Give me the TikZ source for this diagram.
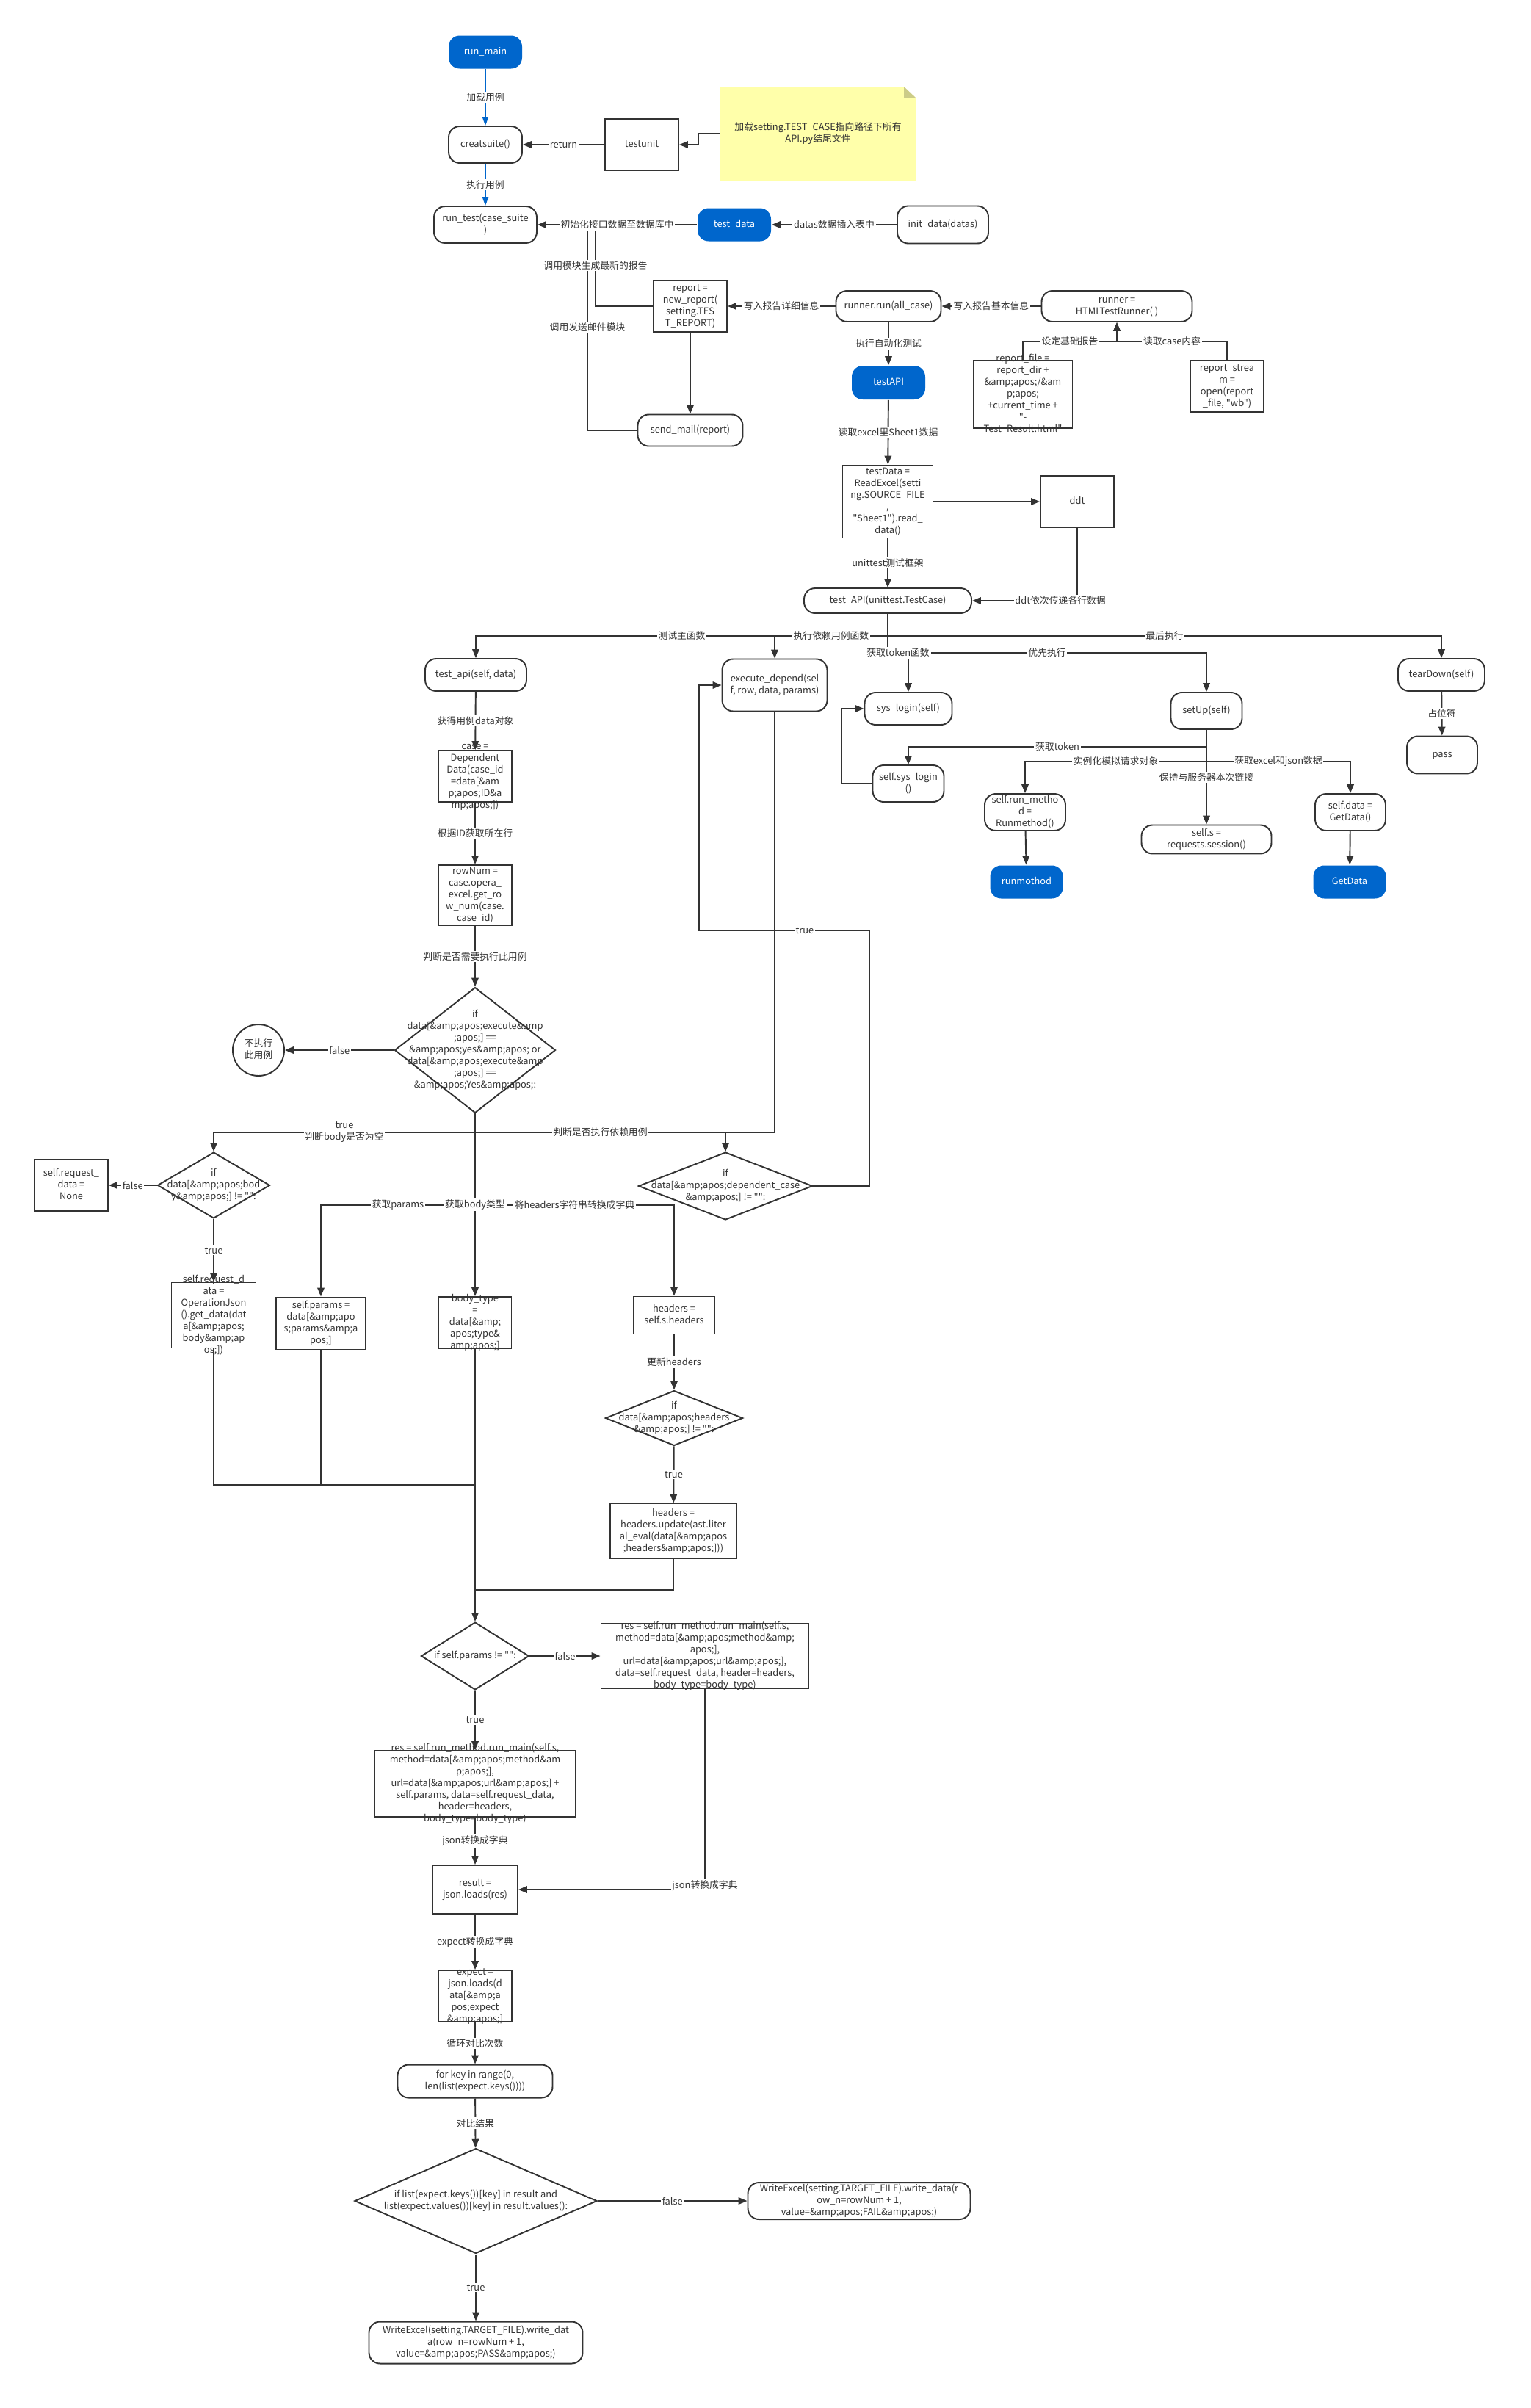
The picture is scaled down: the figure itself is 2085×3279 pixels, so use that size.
\documentclass[tikz,border=0pt]{standalone}
\usepackage{fontspec}
\setmainfont{Noto Sans CJK SC}[Ligatures=TeXOff]
\usetikzlibrary{arrows.meta,shapes.geometric}
\definecolor{FlowBlue}{RGB}{0,102,204}
\definecolor{Ink}{RGB}{51,51,51}
\definecolor{NoteYellow}{RGB}{255,255,170}
\definecolor{NoteFold}{RGB}{204,204,136}
\newcommand{\boxtext}[1]{\makebox[0pt]{\raisebox{-1.8pt}[0pt][0pt]{\begin{tabular}{@{}c@{}}#1\end{tabular}}}}
\tikzset{
  wh/.style 2 args={minimum width=#1*0.02cm,minimum height=#2*0.02cm},
  nodebase/.style={inner sep=0pt,text=Ink,line width=1.1pt},
  term/.style={nodebase,rounded corners=0.3cm,fill=FlowBlue,text=white},
  proc/.style={nodebase,draw=Ink,fill=white,rounded corners=0.3cm},
  codebox/.style={nodebase,draw=Ink,fill=white},
  decision/.style={nodebase,diamond,draw=Ink,fill=white},
  arrow/.style={-{Triangle[length=0.24cm,width=0.19cm]},line width=1.1pt,draw=Ink},
  line/.style={line width=1.1pt,draw=Ink},
  bluearrow/.style={-{Triangle[length=0.24cm,width=0.17cm]},line width=0.6pt,draw=FlowBlue},
  lbl/.style={fill=white,inner sep=1pt,text=Ink,align=center}
}

\begin{document}
\begin{tikzpicture}[x=0.02cm,y=-0.02cm,font=\fontsize{7.3}{9.1}\selectfont]
\fill[white] (0,0) rectangle (2085,3279);
\useasboundingbox (0,0) rectangle (2085,3279);

% suite and report
\node[term,wh={100}{45}] (runmain) at (661,71) {\boxtext{run\_main}};
\node[proc,wh={100}{50}] (creatsuite) at (661,197) {\boxtext{creatsuite()}};
\node[codebox,wh={100}{70}] (testunit) at (874,197) {\boxtext{testunit}};
\node[nodebase,fill=NoteYellow,wh={266}{129}] (note) at (1114,182)
  {\boxtext{加载setting.TEST\_CASE指向路径下所有\\API.py结尾文件}};
\fill[white] (1231,118) -- (1247,118) -- (1247,133) -- cycle;
\fill[NoteFold] (1231,118) -- (1247,133) -- (1231,133) -- cycle;
\node[proc,wh={140}{50}] (runtest) at (661,306) {\boxtext{run\_test(case\_suite\\)}};
\node[term,wh={100}{45}] (testdata) at (1000,306) {\boxtext{test\_data}};
\node[proc,wh={124}{51}] (initdata) at (1284,306) {\boxtext{init\_data(datas)}};
\node[codebox,wh={100}{70}] (report) at (940,417)
  {\boxtext{report =\\new\_report(\\setting.TES\\T\_REPORT)}};
\node[proc,wh={143}{43}] (sendmail) at (940,586) {\boxtext{send\_mail(report)}};
\node[proc,wh={143}{42}] (runnerrun) at (1210,417) {\boxtext{runner.run(all\_case)}};
\node[proc,wh={205}{42}] (runner) at (1521,417) {\boxtext{runner =\\HTMLTestRunner( )}};
\node[codebox,wh={135}{92}] (reportfile) at (1393,537)
  {\boxtext{report\_file =\\report\_dir +\\\&amp;apos;/\&am\\p;apos;\\+current\_time +\\"-\\Test\_Result.html"}};
\node[codebox,wh={100}{70}] (reportstream) at (1671,526)
  {\boxtext{report\_strea\\m =\\open(report\\\_file, "wb")}};

% unittest entry
\node[term,wh={100}{46}] (testapiblue) at (1210,521) {\boxtext{testAPI}};
\node[codebox,wh={123}{99}] (testdatabox) at (1209,683)
  {\boxtext{testData =\\ReadExcel(setti\\ng.SOURCE\_FILE\\,\\"Sheet1").read\_\\data()}};
\node[codebox,wh={100}{70}] (ddt) at (1467,683) {\boxtext{ddt}};
\node[proc,wh={228}{34}] (tapicls) at (1209,818) {\boxtext{test\_API(unittest.TestCase)}};

% test case methods
\node[proc,wh={138}{44}] (testapi) at (648,919) {\boxtext{test\_api(self, data)}};
\node[proc,wh={143}{71}] (execdep) at (1055,933) {\boxtext{execute\_depend(sel\\f, row, data, params)}};
\node[proc,wh={119}{44}] (syslogin) at (1237,965) {\boxtext{sys\_login(self)}};
\node[proc,wh={97}{50}] (setup) at (1643,968) {\boxtext{setUp(self)}};
\node[proc,wh={118}{44}] (teardown) at (1963,919) {\boxtext{tearDown(self)}};
\node[proc,wh={96}{51}] (passnode) at (1964,1028) {\boxtext{pass}};
\node[proc,wh={97}{50}] (selfsys) at (1237,1067) {\boxtext{self.sys\_login\\()}};
\node[proc,wh={110}{50}] (runmethod) at (1396,1106) {\boxtext{self.run\_metho\\d =\\Runmethod()}};
\node[proc,wh={177}{39}] (selfs) at (1643,1143) {\boxtext{self.s =\\requests.session()}};
\node[proc,wh={96}{50}] (selfdata) at (1839,1106) {\boxtext{self.data =\\GetData()}};
\node[term,wh={99}{45}] (runmothod) at (1398,1201) {\boxtext{runmothod}};
\node[term,wh={99}{45}] (getdata) at (1838,1201) {\boxtext{GetData}};

% test_api body
\node[codebox,wh={100}{70}] (case) at (647,1057)
  {\boxtext{case =\\Dependent\\Data(case\_id\\=data[\&am\\p;apos;ID\&a\\mp;apos;])}};
\node[codebox,wh={100}{82}] (rownum) at (647,1219)
  {\boxtext{rowNum =\\case.opera\_\\excel.get\_ro\\w\_num(case.\\case\_id)}};
\node[decision,wh={219}{171}] (dec1) at (647,1430)
  {\boxtext{if\\data[\&amp;apos;execute\&amp\\;apos;] ==\\\&amp;apos;yes\&amp;apos; or\\data[\&amp;apos;execute\&amp\\;apos;] ==\\\&amp;apos;Yes\&amp;apos;:}};
\node[nodebase,circle,draw=Ink,fill=white,minimum size=70*0.02cm] (skip) at (352,1430) {\boxtext{不执行\\此用例}};
\node[decision,wh={153}{90}] (decbody) at (291,1614)
  {\boxtext{if\\data[\&amp;apos;bod\\y\&amp;apos;] != "":}};
\node[codebox,wh={100}{70}] (nonebox) at (97,1614) {\boxtext{self.request\_\\data =\\None}};
\node[decision,wh={237}{92}] (decdep) at (988,1615)
  {\boxtext{if\\data[\&amp;apos;dependent\_case\\\&amp;apos;] != "":}};
\node[codebox,wh={115}{89}] (reqdata) at (291,1791)
  {\boxtext{self.request\_d\\ata =\\OperationJson\\().get\_data(dat\\a[\&amp;apos;\\body\&amp;ap\\os;])}};
\node[codebox,wh={122}{71}] (params) at (437,1802)
  {\boxtext{self.params =\\data[\&amp;apo\\s;params\&amp;a\\pos;]}};
\node[codebox,wh={99}{70}] (bodytype) at (647,1801)
  {\boxtext{body\_type\\=\\data[\&amp;\\apos;type\&\\amp;apos;]}};
\node[codebox,wh={111}{51}] (headers) at (918,1791) {\boxtext{headers =\\self.s.headers}};
\node[decision,wh={187}{75}] (dechead) at (918,1931)
  {\boxtext{if\\data[\&amp;apos;headers\\\&amp;apos;] != "":}};
\node[codebox,wh={172}{75}] (hupdate) at (917,2085)
  {\boxtext{headers =\\headers.update(ast.liter\\al\_eval(data[\&amp;apos\\;headers\&amp;apos;]))}};
\node[decision,wh={147}{92}] (decparams) at (647,2255) {\boxtext{if self.params != "":}};
\node[codebox,wh={283}{89}] (resfalse) at (960,2255)
  {\boxtext{res = self.run\_method.run\_main(self.s,\\method=data[\&amp;apos;method\&amp;\\apos;],\\url=data[\&amp;apos;url\&amp;apos;],\\data=self.request\_data, header=headers,\\body\_type=body\_type)}};
\node[codebox,wh={274}{90}] (restrue) at (647,2429)
  {\boxtext{res = self.run\_method.run\_main(self.s,\\method=data[\&amp;apos;method\&am\\p;apos;],\\url=data[\&amp;apos;url\&amp;apos;] +\\self.params, data=self.request\_data,\\header=headers,\\body\_type=body\_type)}};
\node[codebox,wh={116}{66}] (result) at (647,2573) {\boxtext{result =\\json.loads(res)}};
\node[codebox,wh={100}{70}] (expect) at (647,2718)
  {\boxtext{expect =\\json.loads(d\\ata[\&amp;a\\pos;expect\\\&amp;apos;]}};
\node[proc,wh={211}{45}] (forkey) at (647,2834) {\boxtext{for key in range(0,\\len(list(expect.keys())))}};
\node[decision,wh={330}{143}] (deccmp) at (648,2997)
  {\boxtext{if list(expect.keys())[key] in result and\\list(expect.values())[key] in result.values():}};
\node[proc,wh={303}{50}] (failnode) at (1170,2997)
  {\boxtext{WriteExcel(setting.TARGET\_FILE).write\_data(r\\ow\_n=rowNum + 1,\\value=\&amp;apos;FAIL\&amp;apos;)}};
\node[proc,wh={291}{57}] (passwrite) at (648,3190)
  {\boxtext{WriteExcel(setting.TARGET\_FILE).write\_dat\\a(row\_n=rowNum + 1,\\value=\&amp;apos;PASS\&amp;apos;)}};

% junctions
\coordinate (rptjoin) at (811,306);
\coordinate (mailjoin) at (800,306);
\coordinate (rptfork) at (1521,465);
\coordinate (fan) at (1209,866);
\coordinate (fan2) at (1209,889);
\coordinate (split) at (647,1542);
\coordinate (split2) at (647,1641);
\coordinate (depjoin) at (1055,1542);
\coordinate (merge) at (647,2022);
\coordinate (merge2) at (647,2165);

% connectors, top part
\draw[bluearrow] (runmain) -- node[lbl]{加载用例} (creatsuite);
\draw[bluearrow] (creatsuite) -- node[lbl]{执行用例} (runtest);
\draw[arrow] (testunit) -- node[lbl]{return} (creatsuite);
\draw[arrow] (note.west) -- ++(-29,0) |- (testunit.east);
\draw[line] (sendmail.west) -| (mailjoin);
\draw[line] (report.west) -| node[lbl,pos=0.75]{调用模块生成最新的报告} (rptjoin);
\path (sendmail.west) -| node[lbl,pos=0.75]{调用发送邮件模块} (mailjoin);
\draw[arrow] (testdata) -- node[lbl]{初始化接口数据至数据库中} (runtest);
\draw[arrow] (initdata) -- node[lbl]{datas数据插入表中} (testdata);
\draw[arrow] (report) -- (sendmail);
\draw[arrow] (runnerrun) -- node[lbl]{写入报告详细信息} (report);
\draw[arrow] (runner) -- node[lbl]{写入报告基本信息} (runnerrun);
\draw[arrow] (reportfile.north) |- node[lbl,pos=0.75]{设定基础报告} (rptfork) -- (runner.south);
\draw[arrow] (reportstream.north) |- node[lbl,pos=0.75]{读取case内容} (rptfork) -- (runner.south);
\draw[arrow] (runnerrun) -- node[lbl]{执行自动化测试} (testapiblue);
\draw[arrow] (testapiblue) -- node[lbl]{读取excel里Sheet1数据} (testdatabox);
\draw[arrow] (testdatabox) -- (ddt);
\draw[arrow] (ddt.south) |- node[lbl,pos=0.58]{ddt依次传递各行数据} (tapicls.east);
\draw[arrow] (testdatabox) -- node[lbl]{unittest测试框架} (tapicls);

% connectors, methods
\draw[arrow] (tapicls.south) -- (fan) -| node[lbl,pos=0.25]{测试主函数} (testapi.north);
\draw[arrow] (tapicls.south) -- (fan) -| node[lbl,pos=0.25]{执行依赖用例函数} (execdep.north);
\draw[arrow] (tapicls.south) -- (fan) -| node[lbl,pos=0.25]{最后执行} (teardown.north);
\draw[arrow] (tapicls.south) -- (fan2) -| node[lbl,pos=0.25]{优先执行} (setup.north);
\draw[arrow] (tapicls.south) -- (fan2) -| node[lbl,pos=0.25]{获取token函数} (syslogin.north);
\draw[arrow] (teardown) -- node[lbl]{占位符} (passnode);
\draw[arrow] (setup.south) -- (1643,1017) -| node[lbl,pos=0.25]{获取token} (selfsys.north);
\draw[arrow] (setup.south) -- (1643,1037) -| node[lbl,pos=0.25]{实例化模拟请求对象} (runmethod.north);
\draw[arrow] (setup.south) -- (1643,1037) -| node[lbl,pos=0.25]{获取excel和json数据} (selfdata.north);
\draw[arrow] (setup) -- node[lbl]{保持与服务器本次链接} (selfs);
\draw[arrow] (runmethod) -- (runmothod);
\draw[arrow] (selfdata) -- (getdata);
\draw[arrow] (selfsys.west) -- (1146,1067) |- (syslogin.west);

% connectors, test_api
\draw[arrow] (testapi) -- node[lbl]{获得用例data对象} (case);
\draw[arrow] (case) -- node[lbl]{根据ID获取所在行} (rownum);
\draw[arrow] (rownum) -- node[lbl]{判断是否需要执行此用例} (dec1);
\draw[arrow] (dec1) -- node[lbl]{false} (skip);
\draw[arrow] (execdep.south) -- (depjoin) -| (decdep.north);
\draw[arrow] (dec1.south) -- (split) -| node[lbl,pos=0.25]{true\\判断body是否为空} (decbody.north);
\draw[arrow] (dec1.south) -- (split) -| node[lbl,pos=0.25]{判断是否执行依赖用例} (decdep.north);
\draw[arrow] (decdep.east) -| (1184,1267) -| node[lbl,pos=0.19]{true} (952,933) -- (execdep.west);
\draw[arrow] (decbody) -- node[lbl]{false} (nonebox);
\draw[arrow] (decbody) -- node[lbl]{true} (reqdata);
\draw[arrow] (dec1.south) -- (split2) -| node[lbl,pos=0.25]{获取params} (params.north);
\draw[arrow] (dec1.south) -- (split2) -| node[lbl,pos=0.25]{将headers字符串转换成字典} (headers.north);
\draw[arrow] (dec1.south) -- node[lbl,pos=0.5]{获取body类型} (bodytype.north);
\draw[arrow] (headers) -- node[lbl]{更新headers} (dechead);
\draw[arrow] (dechead) -- node[lbl]{true} (hupdate);
\draw[line] (reqdata.south) |- (merge);
\draw[line] (params.south) |- (merge);
\draw[line] (hupdate.south) |- (merge2);
\draw[arrow] (bodytype.south) -- (decparams.north);
\draw[arrow] (decparams) -- node[lbl]{false} (resfalse);
\draw[arrow] (decparams) -- node[lbl]{true} (restrue);
\draw[arrow] (restrue) -- node[lbl]{json转换成字典} (result);
\draw[arrow] (resfalse.south) |- node[lbl,pos=0.49]{json转换成字典} (result.east);
\draw[arrow] (result) -- node[lbl]{expect转换成字典} (expect);
\draw[arrow] (expect) -- node[lbl]{循环对比次数} (forkey);
\draw[arrow] (forkey) -- node[lbl]{对比结果} (deccmp);
\draw[arrow] (deccmp) -- node[lbl]{false} (failnode);
\draw[arrow] (deccmp) -- node[lbl]{true} (passwrite);

\end{tikzpicture}
\end{document}
